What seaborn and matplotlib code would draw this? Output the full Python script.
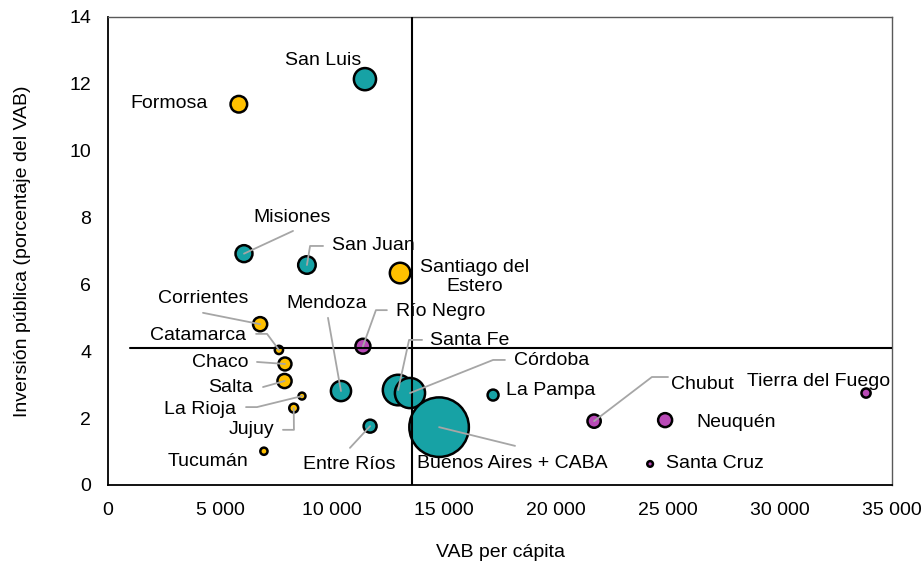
import pandas as pd
import seaborn as sns
import matplotlib
matplotlib.use("Agg")
from matplotlib import pyplot as plt
from matplotlib.ticker import FuncFormatter

# datos
provincias = ["Formosa", "San Luis", "Misiones", "San Juan", "Santiago del\nEstero",
              "Corrientes", "Catamarca", "Chaco", "Salta", "La Rioja", "Jujuy",
              "Tucumán", "Mendoza", "Río Negro", "Entre Ríos", "Santa Fe", "Córdoba",
              "Buenos Aires + CABA", "La Pampa", "Chubut", "Neuquén",
              "Tierra del Fuego", "Santa Cruz"]
vab_pc = [5840, 11470, 6070, 8880, 13040, 6790, 7630, 7900, 7880, 8660, 8290,
          6960, 10400, 11380, 11700, 12950, 13480, 14780, 17190, 21700, 24870,
          33840, 24200]
inversion = [11.39, 12.14, 6.92, 6.58, 6.34, 4.81, 4.04, 3.62, 3.11, 2.66, 2.30,
             1.01, 2.81, 4.15, 1.76, 2.84, 2.75, 1.73, 2.69, 1.91, 1.94,
             2.75, 0.63]
peso = [69, 123, 72, 77, 106, 50, 17, 42, 50, 12, 20, 13, 102, 56, 42, 234, 228,
        888, 30, 44, 49, 21, 8]
grupo = ["N", "C", "C", "C", "N", "N", "N", "N", "N", "N", "N", "N", "C", "P",
         "C", "C", "C", "C", "C", "P", "P", "P", "P"]

df = pd.DataFrame({"prov": provincias, "x": vab_pc, "y": inversion,
                   "peso": peso, "grupo": grupo})

colores = {"N": "#FFC000", "C": "#17A2A5", "P": "#B94AB7"}

sns.set_style("white")
plt.rcParams["font.family"] = ["Liberation Sans", "DejaVu Sans"]
plt.rcParams["font.size"] = 14
plt.rcParams["text.color"] = "black"
plt.rcParams["axes.labelcolor"] = "black"
plt.rcParams["xtick.color"] = "black"
plt.rcParams["ytick.color"] = "black"

fig = plt.figure(figsize=(9.24, 5.64), dpi=100)
ax = fig.add_axes([0.1169, 0.1401, 0.8485, 0.8298])

sns.scatterplot(data=df, x="x", y="y", hue="grupo", palette=colores,
                size="peso", sizes=(0, 2070), size_norm=(0, 1000),
                edgecolor="black", linewidth=1.8, legend=False, ax=ax, zorder=2)

# lineas de referencia (promedios)
ax.plot([13550, 13550], [0, 14], color="black", lw=1.5, zorder=3)
ax.plot([1000, 35000], [4.1, 4.1], color="black", lw=1.5, zorder=3)

gris = "#A6A6A6"
# (texto, x, y, alineacion, guia)
etiquetas = [
    ("San Luis", 9600, 12.71, "center", None),
    ("Formosa", 4460, 11.40, "right", None),
    ("Misiones", 8210, 7.99, "center", [(6070, 6.92), (8260, 7.60)]),
    ("San Juan", 10000, 7.15, "left", [(8880, 6.58), (9020, 7.15), (9600, 7.15)]),
    ("Santiago del\nEstero", 16380, 6.22, "center", None),
    ("Corrientes", 4240, 5.59, "center", [(6790, 4.81), (4240, 5.15)]),
    ("Catamarca", 6160, 4.46, "right", [(7630, 4.04), (7100, 4.52), (6610, 4.52)]),
    ("Chaco", 6250, 3.65, "right", [(7900, 3.62), (6650, 3.68)]),
    ("Salta", 6470, 2.93, "right", [(7880, 3.11), (6920, 2.93)]),
    ("La Rioja", 5710, 2.27, "right", [(8660, 2.66), (6650, 2.33), (6160, 2.33)]),
    ("Jujuy", 7410, 1.65, "right", [(8290, 2.30), (8300, 1.65), (7810, 1.65)]),
    ("Tucumán", 4460, 0.69, "center", None),
    ("Mendoza", 9780, 5.44, "center", [(10400, 2.81), (9820, 5.00)]),
    ("Río Negro", 12860, 5.18, "left", [(11380, 4.15), (11960, 5.23), (12450, 5.23)]),
    ("Entre Ríos", 10760, 0.60, "center", [(11700, 1.76), (10800, 1.11)]),
    ("Santa Fe", 14370, 4.31, "left", [(12950, 2.84), (13440, 4.34), (14020, 4.34)]),
    ("Córdoba", 18120, 3.71, "left", [(13480, 2.75), (17190, 3.74), (17720, 3.74)]),
    ("La Pampa", 17770, 2.84, "left", None),
    ("Buenos Aires + CABA", 13790, 0.63, "left", [(14780, 1.73), (18170, 1.17)]),
    ("Chubut", 25130, 3.02, "left", [(21700, 1.91), (24280, 3.23), (25000, 3.23)]),
    ("Tierra del Fuego", 34900, 3.11, "right", None),
    ("Neuquén", 26250, 1.88, "left", None),
    ("Santa Cruz", 24910, 0.63, "left", None),
]
for txt, tx, ty, ha, guia in etiquetas:
    ax.text(tx, ty, txt, ha=ha, va="center", fontsize=14, color="black",
            linespacing=1.2, zorder=5)
    if guia:
        ax.plot([p[0] for p in guia], [p[1] for p in guia], color=gris, lw=1.3,
                zorder=4)

ax.set_xlim(0, 35000)
ax.set_ylim(0, 14)
ax.set_xticks(range(0, 35001, 5000))
ax.set_yticks(range(0, 15, 2))
ax.xaxis.set_major_formatter(FuncFormatter(lambda v, p: f"{int(v):,}".replace(",", " ")))
ax.tick_params(direction="out", length=4, width=1, color="black", labelsize=14,
               labelcolor="black", pad=8)

for lado in ["left", "bottom"]:
    ax.spines[lado].set_color("black")
    ax.spines[lado].set_linewidth(1.3)
for lado in ["top", "right"]:
    ax.spines[lado].set_color("#595959")
    ax.spines[lado].set_linewidth(1.0)

ax.set_xlabel("VAB per cápita", fontsize=14, labelpad=18)
ax.set_ylabel("Inversión pública (porcentaje del VAB)", fontsize=14, labelpad=28)

fig.savefig("out.png", dpi=100)
